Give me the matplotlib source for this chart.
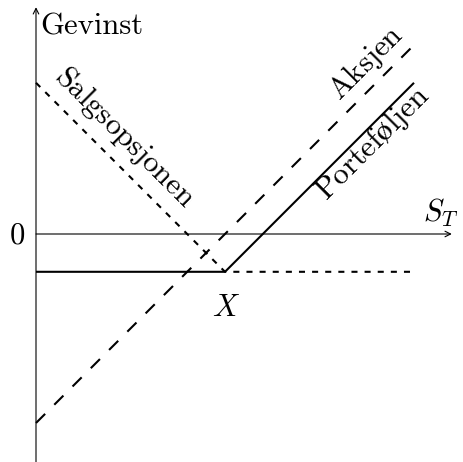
import numpy as np
import matplotlib.pyplot as plt

# Data: payoff diagram (strike X = 5, premium = 1)
strike = 5.0
premium = 1.0
s_values = [0.0, 5.0, 10.0]
aksjen = [s - strike for s in s_values]
salgsopsjon = [max(strike - s, 0) - premium for s in s_values]
portefolje = [a + p for a, p in zip(aksjen, salgsopsjon)]

plt.rcParams['font.family'] = ['cmr10', 'DejaVu Serif']
plt.rcParams['mathtext.fontset'] = 'cm'
plt.rcParams['axes.formatter.use_mathtext'] = True

fig = plt.figure(figsize=(4.64, 4.62), dpi=100)
ax = fig.add_axes([0, 0, 1, 1])
unit = 37.8
ax.set_xlim(-36 / unit, (464 - 36) / unit)
ax.set_ylim(-(462 - 234) / unit, 234 / unit)
ax.axis('off')


def px(x, y):
    # pixel position -> data coordinates
    return (x - 36) / unit, (234 - y) / unit


# axes
ax.annotate('', xy=(11.0, 0), xytext=(0, 0),
            arrowprops=dict(arrowstyle='->', lw=0.8, color='black', shrinkA=0, shrinkB=0))
ax.annotate('', xy=(0, 6.0), xytext=(0, -6.1),
            arrowprops=dict(arrowstyle='->', lw=0.8, color='black', shrinkA=0, shrinkB=0))

lw = 1.5
ax.plot(s_values, aksjen, color='black', lw=lw, linestyle=(0, (6.2, 6.2)))
ax.plot(s_values, salgsopsjon, color='black', lw=lw, linestyle=(0, (2.9, 3.4)))
ax.plot(s_values, portefolje, color='black', lw=lw, solid_capstyle='butt')

fs = 22
ax.text(*px(40, 27), 'Gevinst', fontsize=fs, ha='left', va='center')
ax.text(*px(17, 236), '0', fontsize=fs, ha='center', va='center')
ax.text(*px(441, 213), r'$S_T$', fontsize=fs, ha='center', va='center')
ax.text(*px(226, 308), r'$X$', fontsize=fs, ha='center', va='center')
ax.text(*px(366, 63), r'$\mathrm{Aksjen}$', fontsize=fs, ha='center', va='center',
        rotation=45, rotation_mode='anchor')
ax.text(*px(373, 143), r'$\mathrm{Portef\o ljen}$', fontsize=fs, ha='center', va='center',
        rotation=45, rotation_mode='anchor')
ax.text(*px(125, 137), r'$\mathrm{Salgsopsjonen}$', fontsize=fs, ha='center', va='center',
        rotation=-45, rotation_mode='anchor')

fig.savefig('out.png', dpi=100)
